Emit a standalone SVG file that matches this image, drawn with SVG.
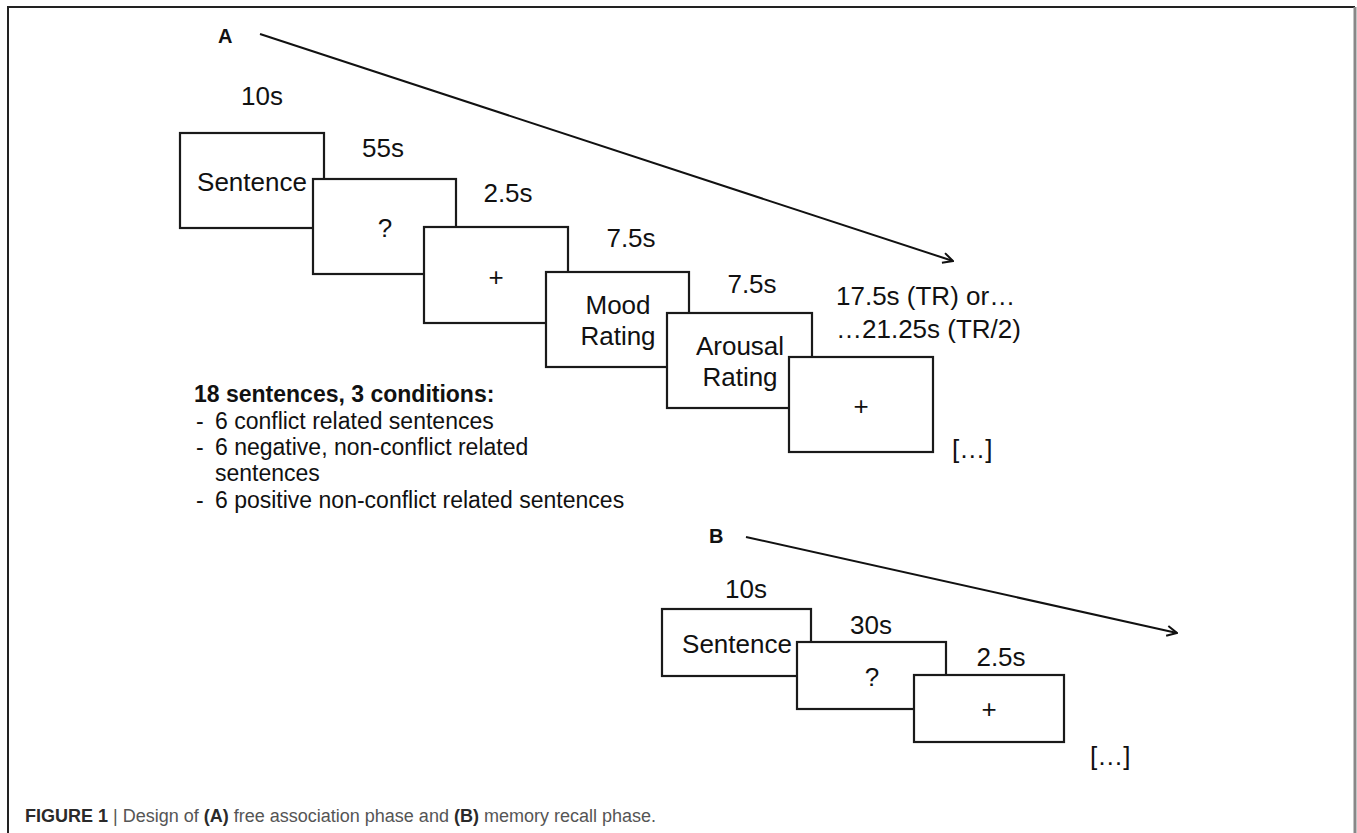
<svg xmlns="http://www.w3.org/2000/svg" width="1357" height="833" viewBox="0 0 1357 833">
<defs>
<marker id="arr" viewBox="0 0 12 12" refX="11" refY="6" markerWidth="12" markerHeight="12" markerUnits="userSpaceOnUse" orient="auto">
<path d="M1,1 L11,6 L1,11" fill="none" stroke="#111" stroke-width="2"/>
</marker>
<style>
.box{fill:#fff;stroke:#1a1a1a;stroke-width:2.2}
.t{font-family:"Liberation Sans",Arial,sans-serif;font-size:26px;fill:#111}
.c{text-anchor:middle}
.lbl{font-family:"Liberation Sans",Arial,sans-serif;font-size:20px;font-weight:bold;fill:#111}
.list{font-family:"Liberation Sans",Arial,sans-serif;font-size:23px;fill:#111}
.cap{font-family:"Liberation Sans",Arial,sans-serif;font-size:18px;fill:#555}
.capb{font-weight:bold;fill:#2a2a2a}
.line{stroke:#111;stroke-width:2;fill:none}
</style>
</defs>
<rect width="1357" height="833" fill="#fff"/>
<path d="M8,833 L8,7 L1355,7" fill="none" stroke="#222" stroke-width="2"/>
<line x1="1355" y1="7" x2="1355" y2="833" stroke="#888" stroke-width="3"/>

<g id="connectors">
<line class="line" x1="260" y1="34" x2="953" y2="261" marker-end="url(#arr)"/>
<line class="line" x1="746" y1="537" x2="1177" y2="633" marker-end="url(#arr)"/>
</g>

<g id="labelA"><text class="lbl" x="218" y="43">A</text></g>
<g id="labelB"><text class="lbl" x="709" y="543">B</text></g>

<g id="a-times">
<text class="t c" x="262" y="105">10s</text>
<text class="t c" x="383" y="157">55s</text>
<text class="t c" x="508" y="202">2.5s</text>
<text class="t c" x="631" y="247">7.5s</text>
<text class="t c" x="752" y="293">7.5s</text>
<text class="t" x="836" y="305">17.5s (TR) or…</text>
<text class="t" x="836" y="338">…21.25s (TR/2)</text>
</g>

<g id="a-sentence"><rect class="box" x="180" y="133" width="144" height="95"/><text class="t c" x="252" y="191">Sentence</text></g>
<g id="a-question"><rect class="box" x="313" y="179" width="143" height="95"/><text class="t c" x="385" y="237">?</text></g>
<g id="a-fix1"><rect class="box" x="424" y="227" width="144" height="96"/><text class="t c" x="496" y="286">+</text></g>
<g id="a-mood"><rect class="box" x="546" y="272" width="143" height="95"/><text class="t c" x="618" y="314">Mood</text><text class="t c" x="618" y="345">Rating</text></g>
<g id="a-arousal"><rect class="box" x="667" y="313" width="145" height="95"/><text class="t c" x="740" y="355">Arousal</text><text class="t c" x="740" y="386">Rating</text></g>
<g id="a-fix2"><rect class="box" x="789" y="357" width="144" height="95"/><text class="t c" x="861" y="415">+</text></g>
<g id="a-more"><text class="t" x="952" y="458">[…]</text></g>

<g id="conditions">
<text class="list" x="194" y="402" font-weight="bold">18 sentences, 3 conditions:</text>
<text class="list" x="196" y="429">-</text><text class="list" x="215" y="429">6 conflict related sentences</text>
<text class="list" x="196" y="455">-</text><text class="list" x="215" y="455">6 negative, non-conflict related</text>
<text class="list" x="215" y="481">sentences</text>
<text class="list" x="196" y="508">-</text><text class="list" x="215" y="508">6 positive non-conflict related sentences</text>
</g>

<g id="b-times">
<text class="t c" x="746" y="598">10s</text>
<text class="t c" x="871" y="634">30s</text>
<text class="t c" x="1001" y="666">2.5s</text>
</g>
<g id="b-sentence"><rect class="box" x="662" y="609" width="149" height="67"/><text class="t c" x="737" y="653">Sentence</text></g>
<g id="b-question"><rect class="box" x="797" y="642" width="149" height="67"/><text class="t c" x="872" y="686">?</text></g>
<g id="b-fix"><rect class="box" x="914" y="675" width="150" height="67"/><text class="t c" x="989" y="718">+</text></g>
<g id="b-more"><text class="t" x="1090" y="765">[…]</text></g>

<g id="caption">
<text class="cap" x="25" y="822"><tspan class="capb">FIGURE 1</tspan> | Design of <tspan class="capb">(A)</tspan> free association phase and <tspan class="capb">(B)</tspan> memory recall phase.</text>
</g>
</svg>
